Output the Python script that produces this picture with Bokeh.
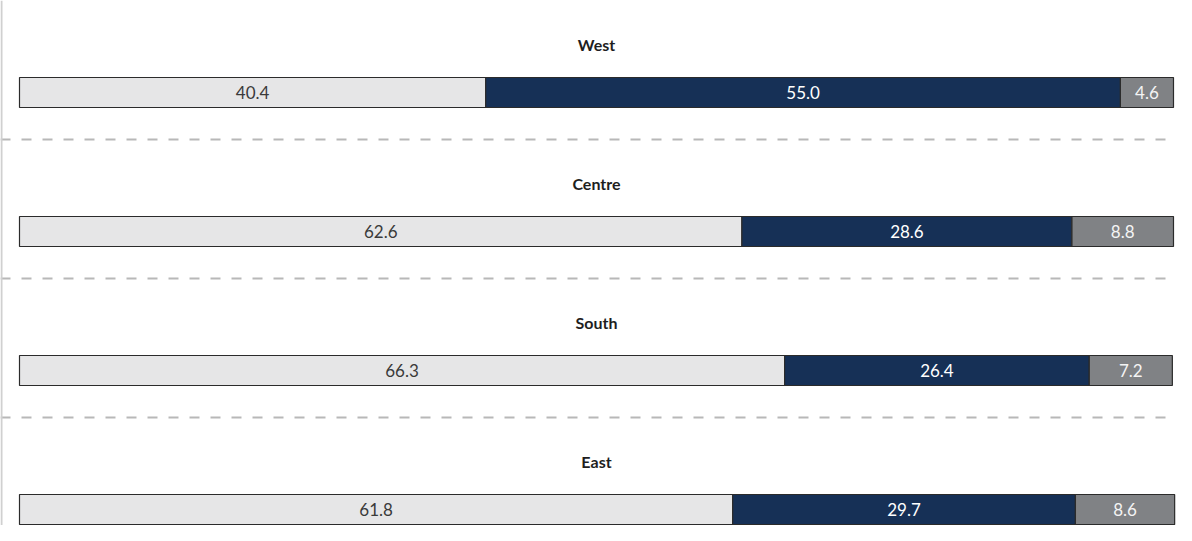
from bokeh.plotting import figure
from bokeh.models import ColumnDataSource, Range1d, Span
from bokeh.embed import file_html
from bokeh.resources import INLINE
from bokeh.core.properties import value

# ---- data ----
regions = ["West", "Centre", "South", "East"]
share_a = [40.4, 62.6, 66.3, 61.8]
share_b = [55.0, 28.6, 26.4, 29.7]
share_c = [4.6, 8.8, 7.2, 8.6]

# ---- layout constants (pixels) ----
W, H = 1176, 525
X0 = 19                    # px left of zero
X1 = 1173                  # px at 100
PX = (X1 - X0) / 100.0     # px per percentage unit
SP = 139                   # px between panels
Y0 = 92                    # px from top to first bar centre
BAR_H = 30

p = figure(width=W, height=H, output_backend="svg", toolbar_location=None,
           x_range=Range1d(-X0 / PX, (W - X0) / PX),
           y_range=Range1d((H - Y0) / SP, -Y0 / SP),
           x_axis_location=None, y_axis_location=None, min_border=0)
p.xgrid.visible = False
p.ygrid.visible = False
p.outline_line_color = None
p.background_fill_color = "white"
p.border_fill_color = "white"

idx = list(range(len(regions)))
a_right = share_a
b_right = [a + b for a, b in zip(share_a, share_b)]
c_right = [a + b + c for a, b, c in zip(share_a, share_b, share_c)]

segments = [
    (share_a, [0] * 4, a_right, "#e6e6e7", "#3a3a3a"),
    (share_b, a_right, b_right, "#163056", "#ffffff"),
    (share_c, b_right, c_right, "#808285", "#f4f4f4"),
]

for vals, lefts, rights, fill, tcol in segments:
    src = ColumnDataSource(dict(
        y=idx, left=lefts, right=rights,
        mid=[(l + r) / 2 for l, r in zip(lefts, rights)],
        lab=[f"{v:.1f}" for v in vals]))
    p.hbar(y="y", left="left", right="right", height=BAR_H / SP, source=src,
           fill_color=fill, line_color="#2b2b2b", line_width=1.2)
    p.text(x="mid", y="y", text="lab", source=src, text_align="center",
           text_baseline="middle", text_font=value("Lato"),
           text_font_size="17px", text_color=tcol)

# titles
tsrc = ColumnDataSource(dict(y=idx, x=[50] * 4, t=regions))
p.text(x="x", y="y", text="t", source=tsrc, y_offset=-48, text_align="center",
       text_baseline="middle", text_font=value("Lato"), text_font_style="bold",
       text_font_size="16px", text_color="#1e1e1e")

# dashed separators
for i in idx[:-1]:
    p.add_layout(Span(location=i + 47 / SP, dimension="width",
                      line_color="#b8b8b8", line_dash="10 11", line_width=2))

# left vertical rule
p.add_layout(Span(location=-X0 / PX + 1 / PX, dimension="height",
                  line_color="#d0d0d0", line_width=2))

open("out.html", "w").write(file_html(p, INLINE))
